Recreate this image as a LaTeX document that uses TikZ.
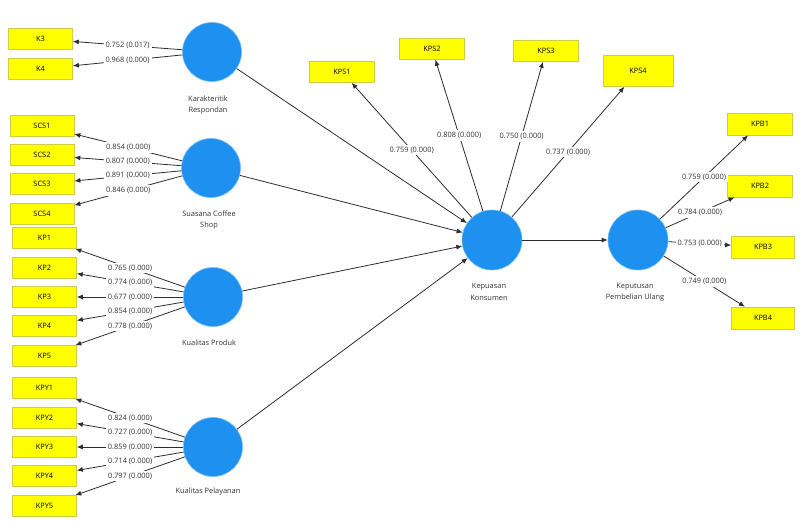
\documentclass[tikz,border=0pt]{standalone}
\usepackage{fontspec}
\setmainfont{Open Sans}
\usetikzlibrary{arrows.meta}
\definecolor{lvblue}{RGB}{30,144,240}
\definecolor{indyellow}{RGB}{255,255,0}
\definecolor{indborder}{RGB}{205,205,70}
\definecolor{linegray}{RGB}{45,45,45}

\begin{document}
\begin{tikzpicture}[x=1pt,y=-1pt,
    font=\fontsize{7.4}{11.5}\selectfont,
    ind/.style={rectangle,fill=indyellow,draw=indborder,line width=0.6pt,
        minimum width=64pt,minimum height=21pt,inner sep=0pt},
    lv/.style={circle,fill=lvblue,draw=lvblue!60,line width=0.6pt,
        minimum size=59pt,inner sep=0pt},
    lvtext/.style={align=center,text=black!80},
    arr/.style={draw=linegray,line width=0.8pt,-{Latex[length=6pt,width=5pt]}},
    ld/.style={midway,fill=white,inner sep=2pt,text=black!80}]
                \useasboundingbox (0,0) rectangle (802,521);
                
                % Latent variables
                \node[lv] (kr) at (212,52) {};
                \node[lv] (scs) at (211,168) {};
                \node[lv] (kp) at (213,297) {};
                \node[lv] (kpy) at (213,447) {};
                \node[lv,minimum size=60pt] (kk) at (492,240) {};
                \node[lv,minimum size=60pt] (kpu) at (638,240) {};
                
                % Latent variable names
                \node[lvtext] (krtext) at (208,105) {Karakteritik\\Respondan};
                \node[lvtext] (scstext) at (209,220) {Suasana Coffee\\Shop};
                \node[lvtext] (kptext) at (209,343) {Kualitas Produk};
                \node[lvtext] (kpytext) at (208,492) {Kualitas Pelayanan};
                \node[lvtext] (kktext) at (489,292) {Kepuasan\\Konsumen};
                \node[lvtext] (kputext) at (635,292) {Keputusan\\Pembelian Ulang};
                
                % Indicators: Karakteritik Responden
                \node[ind] (k3) at (40.5,39) {K3};
                \node[ind] (k4) at (40.5,69) {K4};
                
                % Indicators: Suasana Coffee Shop
                \node[ind] (scs1) at (42,126) {SCS1};
                \node[ind] (scs2) at (42,155) {SCS2};
                \node[ind] (scs3) at (42,184) {SCS3};
                \node[ind] (scs4) at (42,214) {SCS4};
                
                % Indicators: Kualitas Produk
                \node[ind] (kp1) at (44.5,238) {KP1};
                \node[ind] (kp2) at (44.5,268) {KP2};
                \node[ind] (kp3) at (44.5,297) {KP3};
                \node[ind] (kp4) at (44.5,326) {KP4};
                \node[ind] (kp5) at (44.5,356) {KP5};
                
                % Indicators: Kualitas Pelayanan
                \node[ind] (kpy1) at (44.5,388) {KPY1};
                \node[ind] (kpy2) at (44.5,418) {KPY2};
                \node[ind] (kpy3) at (44.5,447) {KPY3};
                \node[ind] (kpy4) at (44.5,476) {KPY4};
                \node[ind] (kpy5) at (44.5,506) {KPY5};
                
                % Indicators: Kepuasan Konsumen
                \node[ind,minimum width=65pt] (kps1) at (342,72) {KPS1};
                \node[ind,minimum width=65pt] (kps2) at (432,49) {KPS2};
                \node[ind,minimum width=65pt] (kps3) at (546,51) {KPS3};
                \node[ind,minimum width=70pt,minimum height=31pt] (kps4) at (638,71) {KPS4};
                
                % Indicators: Keputusan Pembelian Ulang
                \node[ind,minimum width=65pt,minimum height=22pt] (kpb1) at (760,124) {KPB1};
                \node[ind,minimum width=65pt,minimum height=22pt] (kpb2) at (760,186) {KPB2};
                \node[ind,minimum width=63pt,minimum height=22pt] (kpb3) at (763,247) {KPB3};
                \node[ind,minimum width=63pt,minimum height=22pt] (kpb4) at (763,318) {KPB4};
                
                % Outer loadings
                \draw[arr] (kr) -- (k3) node[ld] {0.752 (0.017)};
                \draw[arr] (kr) -- (k4) node[ld] {0.968 (0.000)};
                \draw[arr] (scs) -- (scs1) node[ld] {0.854 (0.000)};
                \draw[arr] (scs) -- (scs2) node[ld] {0.807 (0.000)};
                \draw[arr] (scs) -- (scs3) node[ld] {0.891 (0.000)};
                \draw[arr] (scs) -- (scs4) node[ld] {0.846 (0.000)};
                \draw[arr] (kp) -- (kp1) node[ld] {0.765 (0.000)};
                \draw[arr] (kp) -- (kp2) node[ld] {0.774 (0.000)};
                \draw[arr] (kp) -- (kp3) node[ld] {0.677 (0.000)};
                \draw[arr] (kp) -- (kp4) node[ld] {0.854 (0.000)};
                \draw[arr] (kp) -- (kp5) node[ld] {0.778 (0.000)};
                \draw[arr] (kpy) -- (kpy1) node[ld] {0.824 (0.000)};
                \draw[arr] (kpy) -- (kpy2) node[ld] {0.727 (0.000)};
                \draw[arr] (kpy) -- (kpy3) node[ld] {0.859 (0.000)};
                \draw[arr] (kpy) -- (kpy4) node[ld] {0.714 (0.000)};
                \draw[arr] (kpy) -- (kpy5) node[ld] {0.797 (0.000)};
                \draw[arr] (kk) -- (kps1) node[ld] {0.759 (0.000)};
                \draw[arr] (kk) -- (kps2) node[ld] {0.808 (0.000)};
                \draw[arr] (kk) -- (kps3) node[ld] {0.750 (0.000)};
                \draw[arr] (kk) -- (kps4) node[ld] {0.737 (0.000)};
                \draw[arr] (kpu) -- (kpb1) node[ld] {0.759 (0.000)};
                \draw[arr] (kpu) -- (kpb2) node[ld] {0.784 (0.000)};
                \draw[arr] (kpu) -- (kpb3) node[ld] {0.753 (0.000)};
                \draw[arr] (kpu) -- (kpb4) node[ld] {0.749 (0.000)};
                
                % Inner model
                \draw[arr] (kr) -- (kk);
                \draw[arr] (scs) -- (kk);
                \draw[arr] (kp) -- (kk);
                \draw[arr] (kpy) -- (kk);
                \draw[arr] (kk) -- (kpu);
            \end{tikzpicture}
\end{document}
